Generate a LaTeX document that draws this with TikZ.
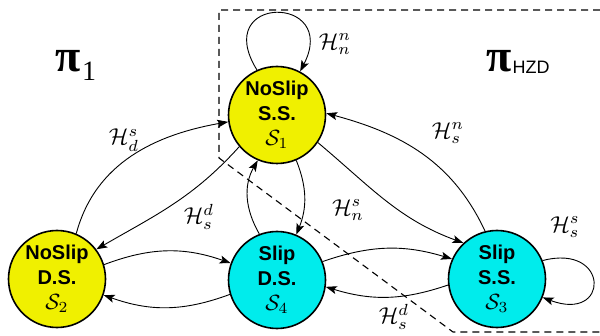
\documentclass[tikz,border=0pt]{standalone}
\usepackage{amsmath}
\usepackage{fontspec}
\setsansfont{Liberation Sans}
\newfontfamily\piface{Liberation Serif}
\usetikzlibrary{arrows.meta}
\definecolor{nsyellow}{RGB}{240,240,0}
\definecolor{slcyan}{RGB}{0,236,236}
% guard symbols and state names, set at 10pt and enlarged
\newcommand{\guard}[2]{\scalebox{2.3}{\normalsize$\mathcal{H}^{#1}_{#2}$}}
\newcommand{\stateid}[1]{\scalebox{2.2}{\normalsize$\mathcal{S}_{#1}$}}
\tikzset{
  state/.style={circle, draw=black, line width=1.6pt, minimum size=97pt, inner sep=0pt,
    align=center, font=\sffamily\bfseries\fontsize{20}{25}\selectfont},
  noslip/.style={state, fill=nsyellow},
  slipst/.style={state, fill=slcyan},
  edge/.style={line width=0.9pt, -{Stealth[length=11pt,width=8pt,inset=2.5pt]}},
  lbl/.style={inner sep=0pt},
  region/.style={line width=1.1pt, dash pattern=on 7pt off 5pt},
  pilbl/.style={inner sep=0pt}
}
\begin{document}
\begin{tikzpicture}[x=1pt,y=1pt]
\useasboundingbox (0,0) rectangle (600,335);

% region boundary of the HZD controller
\coordinate (b1) at (219,325);
\coordinate (b2) at (219,177);
\coordinate (b3) at (453,3);
\coordinate (b4) at (600,3);
\coordinate (b0) at (600,325);
\draw[region] (b0) -- (b1) -- (b2) -- (b3) -- (b4);

% states
\node[noslip] (S1) at (277,220) {NoSlip\\S.S.\\\stateid{1}};
\node[noslip] (S2) at (57,56) {NoSlip\\D.S.\\\stateid{2}};
\node[slipst] (S4) at (277,55) {Slip\\D.S.\\\stateid{4}};
\node[slipst] (S3) at (497,56) {Slip\\S.S.\\\stateid{3}};

% controller labels
\node[pilbl] (p1) at (76,270) {\piface\bfseries\fontsize{46}{46}\selectfont π\kern1pt\raisebox{-9pt}{\fontsize{28}{28}\selectfont\mdseries 1}};
\node[pilbl] (p2) at (518,273) {\piface\bfseries\fontsize{46}{46}\selectfont π\kern1pt\raisebox{-2pt}{\sffamily\mdseries\fontsize{18}{18}\selectfont HZD}};

% transitions
\draw[edge] (S1.114) .. controls (210,341) and (340,341) .. (S1.62);
\draw[edge] (S2.67) to[out=75,in=190] (S1.188);
\draw[edge] (S1.220) to[out=228,in=30] (S2.37);
\draw[edge] (S2.17) to[bend left=20] (S4.160);
\draw[edge] (S4.197) to[bend left=20] (S2.341);
\draw[edge] (S1.293) to[out=-68,in=68] (S4.67);
\draw[edge] (S4.111) to[out=120,in=240] (S1.247);
\draw[edge] (S1.326) to[out=-40,in=160] (S3.133);
\draw[edge] (S3.104) to[out=115,in=-15] (S1.2);
\draw[edge] (S4.22) to[bend left=18] (S3.156);
\draw[edge] (S3.187) to[bend left=18] (S4.352);
\draw[edge] (S3.22) .. controls (610,92) and (610,12) .. (S3.-22);

% guard labels
\node[lbl] (hnn) at (335,291) {\guard{n}{n}};
\node[lbl] (hds) at (124,195) {\guard{s}{d}};
\node[lbl] (hsd1) at (199,118) {\guard{d}{s}};
\node[lbl] (hsn) at (448,202) {\guard{n}{s}};
\node[lbl] (hns) at (348,125) {\guard{s}{n}};
\node[lbl] (hss) at (565,108) {\guard{s}{s}};
\node[lbl] (hsd2) at (394,18) {\guard{d}{s}};
\end{tikzpicture}
\end{document}
